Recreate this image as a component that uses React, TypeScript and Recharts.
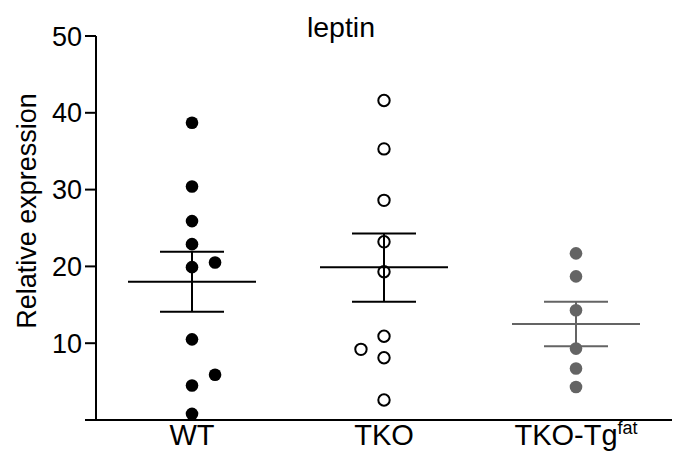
import React from "react";
import { ScatterChart, Scatter, XAxis, YAxis, ErrorBar, Label } from "recharts";

const GROUPS = ["WT", "TKO", "TKO-Tg"];
const GROUP_SUPERSCRIPT = ["", "", "fat"];

// individual animals (x is the group index, small offsets for side-by-side dots)
const WT_Y = [38.7, 30.4, 25.9, 22.9, 19.9, 20.5, 10.5, 4.5, 5.9, 0.8];
const WT_X = [0, 0, 0, 0, 0, 0.12, 0, 0, 0.12, 0];
const TKO_Y = [41.6, 35.3, 28.6, 23.2, 19.3, 10.9, 9.2, 8.1, 2.6];
const TKO_X = [1, 1, 1, 1, 1, 1, 0.88, 1, 1];
const TG_Y = [21.7, 18.7, 14.3, 9.3, 6.7, 4.3];
const TG_X = [2, 2, 2, 2, 2, 2];

// mean +/- SEM per group
const MEANS = [18.0, 19.9, 12.5];
const SEM_LOW = [3.9, 4.5, 2.9];
const SEM_HIGH = [3.9, 4.4, 2.9];

const Y_TICKS = [0, 10, 20, 30, 40, 50];

const FONT = "'Liberation Sans', Arial, sans-serif";
const GREY = "#646464";

const toPoints = (xs: number[], ys: number[]) =>
  ys.map((y, i) => ({ x: xs[i], y }));

const meanPoint = (i: number) => [
  { x: i, y: MEANS[i], err: [SEM_LOW[i], SEM_HIGH[i]] },
];

const XTick = (props: any) => {
  const { x, y, payload } = props;
  const i = payload.value;
  return (
    <text
      x={x}
      y={y}
      dy={25}
      textAnchor="middle"
      fontSize={29}
      fontFamily={FONT}
      fill="#000"
    >
      {GROUPS[i]}
      {GROUP_SUPERSCRIPT[i] && (
        <tspan fontSize={18} dy={-11}>
          {GROUP_SUPERSCRIPT[i]}
        </tspan>
      )}
    </text>
  );
};

const meanShape = (color: string) => (props: any) => (
  <line
    x1={props.cx - 64}
    x2={props.cx + 64}
    y1={props.cy}
    y2={props.cy}
    stroke={color}
    strokeWidth={2}
  />
);

const App = () => {
  return (
    <div style={{ position: "absolute", left: 0, top: 0, width: 678, height: 462 }}>
      <div
        style={{
          position: "absolute",
          left: 241,
          width: 200,
          top: 13,
          textAlign: "center",
          fontFamily: FONT,
          fontSize: 28.5,
          lineHeight: "28px",
        }}
      >
        leptin
      </div>
      <ScatterChart
        width={678}
        height={462}
        margin={{ top: 36, right: 6, bottom: 0, left: 0 }}
      >
        <XAxis
          type="number"
          dataKey="x"
          domain={[-0.5, 2.5]}
          ticks={[0, 1, 2]}
          interval={0}
          height={42}
          tickLine={false}
          tickSize={0}
          tickMargin={0}
          axisLine={{ stroke: "#000", strokeWidth: 2 }}
          tick={<XTick />}
        />
        <YAxis
          type="number"
          dataKey="y"
          domain={[0, 50]}
          ticks={Y_TICKS}
          width={96}
          tickSize={11}
          tickMargin={3}
          axisLine={{ stroke: "#000", strokeWidth: 2 }}
          tickLine={{ stroke: "#000", strokeWidth: 2 }}
          tick={{ fontSize: 27, fill: "#000", fontFamily: FONT }}
          tickFormatter={(v: number) => (v === 0 ? "" : String(v))}
        >
          <Label
            content={() => (
              <text
                x={36}
                y={211}
                transform="rotate(-90, 36, 211)"
                textAnchor="middle"
                fontSize={27}
                fontFamily={FONT}
                fill="#000"
              >
                Relative expression
              </text>
            )}
          />
        </YAxis>

        <Scatter data={meanPoint(0)} shape={meanShape("#000")} isAnimationActive={false}>
          <ErrorBar dataKey="err" direction="y" width={32} stroke="#000" strokeWidth={2} isAnimationActive={false} />
        </Scatter>
        <Scatter data={meanPoint(1)} shape={meanShape("#000")} isAnimationActive={false}>
          <ErrorBar dataKey="err" direction="y" width={32} stroke="#000" strokeWidth={2} isAnimationActive={false} />
        </Scatter>
        <Scatter data={meanPoint(2)} shape={meanShape(GREY)} isAnimationActive={false}>
          <ErrorBar dataKey="err" direction="y" width={32} stroke={GREY} strokeWidth={2} isAnimationActive={false} />
        </Scatter>

        <Scatter
          data={toPoints(WT_X, WT_Y)}
          isAnimationActive={false}
          shape={(p: any) => <circle cx={p.cx} cy={p.cy} r={6.3} fill="#000" />}
        />
        <Scatter
          data={toPoints(TKO_X, TKO_Y)}
          isAnimationActive={false}
          shape={(p: any) => (
            <circle cx={p.cx} cy={p.cy} r={5.7} fill="none" stroke="#000" strokeWidth={2} />
          )}
        />
        <Scatter
          data={toPoints(TG_X, TG_Y)}
          isAnimationActive={false}
          shape={(p: any) => <circle cx={p.cx} cy={p.cy} r={6.3} fill={GREY} />}
        />
      </ScatterChart>
    </div>
  );
};

export default App;
